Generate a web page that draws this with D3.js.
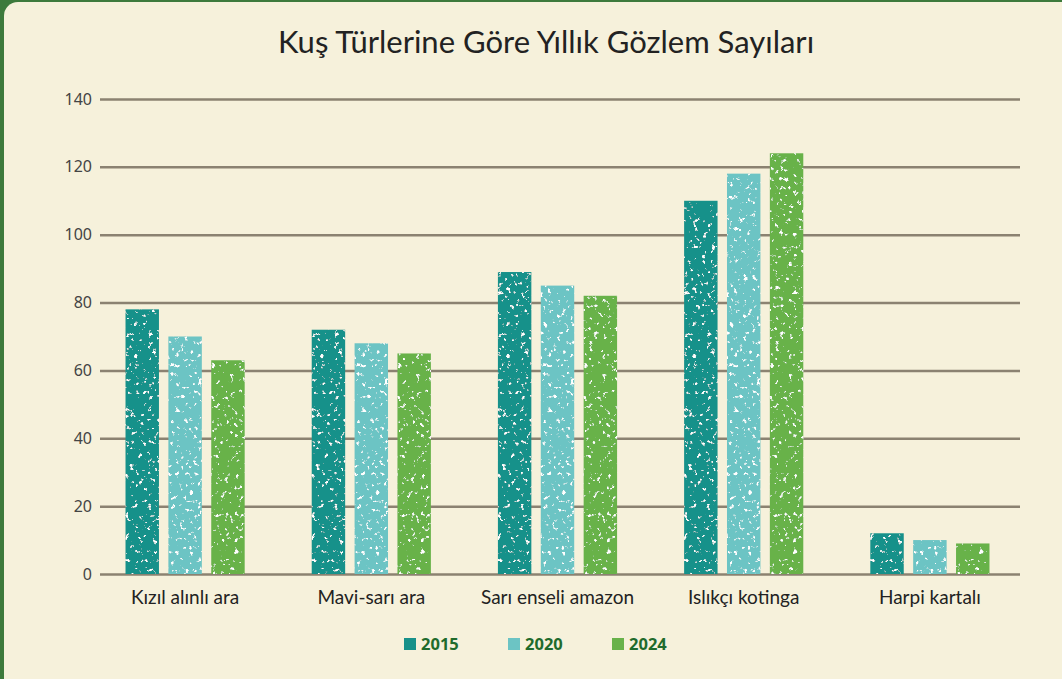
<!DOCTYPE html>
<html>
<head>
<meta charset="utf-8">
<script src="https://cdn.jsdelivr.net/npm/d3@7"></script>
<style>
  html, body { margin: 0; padding: 0; background: #3d7a3c; }
  svg { display: block; }
</style>
</head>
<body>
<div id="chart"></div>
<script>
// Chart data
const species = ["Kızıl alınlı ara", "Mavi-sarı ara", "Sarı enseli amazon", "Islıkçı kotinga", "Harpi kartalı"];
const years = ["2015", "2020", "2024"];
const counts2015 = [78, 72, 89, 110, 12];
const counts2020 = [70, 68, 85, 118, 10];
const counts2024 = [63, 65, 82, 124, 9];
const yTicks = [0, 20, 40, 60, 80, 100, 120, 140];
const colors = ["#17918a", "#6cc4c4", "#68b24a"];

const width = 1062, height = 679;
const margin = { top: 99, right: 39, bottom: 105, left: 92 };

const svg = d3.select("#chart")
  .append("svg")
  .attr("width", width)
  .attr("height", height);

// Speckled texture for the bars
const defs = svg.append("defs");
const filter = defs.append("filter").attr("id", "speckle");
filter.append("feTurbulence")
  .attr("type", "fractalNoise")
  .attr("baseFrequency", 0.22)
  .attr("numOctaves", 3)
  .attr("seed", 7)
  .attr("result", "noise");
filter.append("feColorMatrix")
  .attr("in", "noise")
  .attr("type", "matrix")
  .attr("values", "0 0 0 0 1  0 0 0 0 1  0 0 0 0 1  10 0 0 0 -6.4")
  .attr("result", "specks");
filter.append("feComposite")
  .attr("in", "specks")
  .attr("in2", "SourceGraphic")
  .attr("operator", "in")
  .attr("result", "sp");
const merge = filter.append("feMerge");
merge.append("feMergeNode").attr("in", "SourceGraphic");
merge.append("feMergeNode").attr("in", "sp");

// Cream panel inside the green frame
svg.append("rect")
  .attr("x", 4)
  .attr("y", 2)
  .attr("width", width + 20)
  .attr("height", height + 20)
  .attr("rx", 14)
  .attr("fill", "#f6f1db");

// Title
svg.append("text")
  .attr("x", 546)
  .attr("y", 53)
  .attr("text-anchor", "middle")
  .attr("font-family", "Lato, 'Noto Sans', sans-serif")
  .attr("font-size", 31)
  .attr("fill", "#222")
  .text("Kuş Türlerine Göre Yıllık Gözlem Sayıları");

const x0 = d3.scaleBand()
  .domain(species)
  .range([margin.left, width - margin.right])
  .paddingInner(0.36)
  .paddingOuter(0.18);

const x1 = d3.scaleBand()
  .domain(years)
  .range([0, x0.bandwidth()])
  .paddingInner(0.22)
  .paddingOuter(0);

const y = d3.scaleLinear()
  .domain([0, 140])
  .range([height - margin.bottom, margin.top]);

// Gridlines and y tick labels
const yAxis = svg.append("g")
  .attr("transform", `translate(100,0)`)
  .call(d3.axisLeft(y).tickValues(yTicks).tickSize(-920).tickPadding(8))
  .call((g) => g.select(".domain").remove());
yAxis.selectAll(".tick line")
  .attr("stroke", "#8b8271")
  .attr("stroke-width", 2.5);
yAxis.selectAll(".tick text")
  .attr("font-family", "'Noto Sans', sans-serif")
  .attr("font-size", 16)
  .attr("fill", "#444");

// Bars
const series = [counts2015, counts2020, counts2024];
const groups = svg.append("g")
  .selectAll("g")
  .data(species)
  .enter()
  .append("g")
  .attr("transform", (d) => `translate(${x0(d)},0)`);

groups.selectAll("rect")
  .data((d, i) => years.map((yr, j) => ({ year: yr, value: series[j][i], c: colors[j] })))
  .enter()
  .append("rect")
  .attr("x", (d) => x1(d.year))
  .attr("width", x1.bandwidth())
  .attr("y", (d) => y(d.value))
  .attr("height", (d) => y(0) - y(d.value))
  .attr("fill", (d) => d.c)
  .attr("filter", "url(#speckle)");

// Category labels
svg.append("g")
  .attr("transform", `translate(0,${y(0)})`)
  .call(d3.axisBottom(x0).tickSize(0).tickPadding(17))
  .call((g) => g.select(".domain").remove())
  .selectAll("text")
  .attr("font-family", "Lato, 'Noto Sans', sans-serif")
  .attr("font-size", 19)
  .attr("fill", "#222");

// Legend
const legendX = [404, 508, 612];
const legend = svg.append("g")
  .selectAll("g")
  .data(years)
  .enter()
  .append("g")
  .attr("transform", (d, i) => `translate(${legendX[i]},644)`);
legend.append("rect")
  .attr("x", 0)
  .attr("y", -6)
  .attr("width", 12)
  .attr("height", 12)
  .attr("fill", (d, i) => colors[i]);
legend.append("text")
  .attr("x", 17)
  .attr("dy", "0.36em")
  .attr("font-family", "'Noto Sans', sans-serif")
  .attr("font-weight", "bold")
  .attr("font-size", 16.5)
  .attr("fill", "#1f6b2c")
  .text((d) => d);
</script>
</body>
</html>
